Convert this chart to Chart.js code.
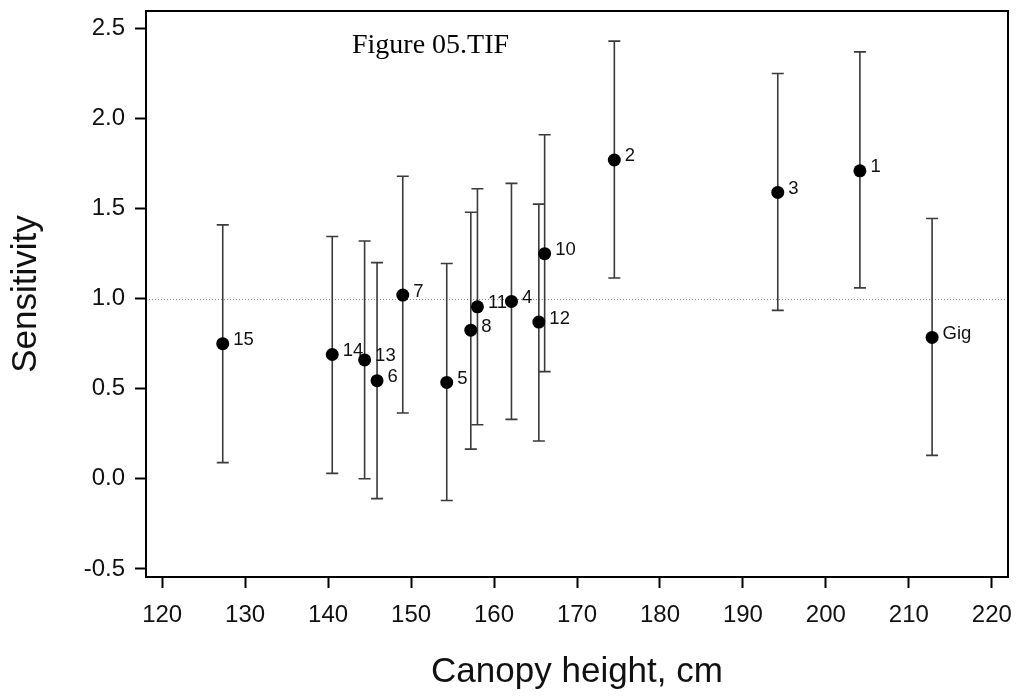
<!DOCTYPE html>
<html>
<head>
<meta charset="utf-8">
<title>Sensitivity vs canopy height</title>
<script src="https://cdn.jsdelivr.net/npm/chart.js@4.4.1/dist/chart.umd.min.js"></script>
<style>
    html, body { margin: 0; padding: 0; background: #fff; }
    #wrap { width: 1016px; height: 697px; }
</style>
</head>
<body>
<div id="wrap"><canvas id="sens-chart" width="1016" height="697"></canvas></div>
<script>
// Sites, canopy height (cm), sensitivity and the limits of each error bar
const siteLabels   = ['15', '14', '13', '6', '7', '5', '8', '11', '4', '12', '10', '2', '3', '1', 'Gig'];
const canopyHeight = [127.3, 140.5, 144.4, 145.9, 149.0, 154.3, 157.2, 158.0, 162.1, 165.4, 166.1, 174.5, 194.2, 204.1, 212.8];
const sensitivity  = [0.75, 0.69, 0.66, 0.545, 1.02, 0.535, 0.825, 0.955, 0.985, 0.87, 1.25, 1.77, 1.59, 1.71, 0.785];
const lowerLimit   = [0.09, 0.03, 0.0, -0.11, 0.365, -0.12, 0.165, 0.30, 0.33, 0.21, 0.595, 1.115, 0.935, 1.06, 0.13];
const upperLimit   = [1.41, 1.345, 1.32, 1.20, 1.68, 1.195, 1.48, 1.61, 1.64, 1.525, 1.91, 2.43, 2.25, 2.37, 1.445];

// Axis ticks and the dotted reference level
const xTicks = [120, 130, 140, 150, 160, 170, 180, 190, 200, 210, 220];
const yTicks = [-0.5, 0.0, 0.5, 1.0, 1.5, 2.0, 2.5];
const refLevel = 1.0;

const SANS = "'Liberation Sans', Arial, Helvetica, sans-serif";

// Error bars, reference line, point labels, frame and caption
const extrasPlugin = {
    id: 'extras',
    beforeDatasetsDraw(chart) {
        const { ctx, chartArea, scales: { x, y } } = chart;
        ctx.save();

        // dotted line at sensitivity = 1
        const yRef = Math.round(y.getPixelForValue(refLevel)) + 0.5;
        ctx.strokeStyle = '#8a8a8a';
        ctx.lineWidth = 1;
        ctx.setLineDash([1, 2]);
        ctx.beginPath();
        ctx.moveTo(chartArea.left, yRef);
        ctx.lineTo(chartArea.right, yRef);
        ctx.stroke();
        ctx.setLineDash([]);

        // vertical bars with caps
        ctx.strokeStyle = '#3a3a3a';
        ctx.lineWidth = 1.6;
        canopyHeight.forEach((h, i) => {
            const px = x.getPixelForValue(h);
            const lo = y.getPixelForValue(lowerLimit[i]);
            const hi = y.getPixelForValue(upperLimit[i]);
            ctx.beginPath();
            ctx.moveTo(px, lo); ctx.lineTo(px, hi);
            ctx.moveTo(px - 6, lo); ctx.lineTo(px + 6, lo);
            ctx.moveTo(px - 6, hi); ctx.lineTo(px + 6, hi);
            ctx.stroke();
        });
        ctx.restore();
    },
    afterDatasetsDraw(chart) {
        const { ctx, scales: { x, y } } = chart;
        ctx.save();
        ctx.fillStyle = '#111';
        ctx.font = '18.5px ' + SANS;
        ctx.textAlign = 'left';
        ctx.textBaseline = 'alphabetic';
        siteLabels.forEach((label, i) => {
            const px = x.getPixelForValue(canopyHeight[i]);
            const py = y.getPixelForValue(sensitivity[i]);
            ctx.fillText(label, px + 10.5, py + 1.5);
        });
        ctx.restore();
    },
    afterDraw(chart) {
        const { ctx, chartArea } = chart;
        ctx.save();
        // box round the plot
        ctx.strokeStyle = '#000';
        ctx.lineWidth = 2;
        ctx.strokeRect(chartArea.left, chartArea.top, chartArea.right - chartArea.left, chartArea.bottom - chartArea.top);

        // file caption inside the plot
        ctx.fillStyle = '#000';
        ctx.font = "28px 'Liberation Serif', 'Times New Roman', serif";
        ctx.textAlign = 'left';
        ctx.textBaseline = 'alphabetic';
        ctx.fillText('Figure 05.TIF', 352, 53);
        ctx.restore();
    }
};

// scales keep fixed sizes; layout padding alone sets the plot box
function fixX(scale) {
    scale.height = 120;
    scale.paddingLeft = 0;
    scale.paddingRight = 0;
}
function fixY(scale) {
    scale.width = 146;
    scale.paddingTop = 0;
    scale.paddingBottom = 0;
}

const ctx = document.getElementById('sens-chart').getContext('2d');
const chart = new Chart(ctx, {
    type: 'scatter',
    data: {
        datasets: [{
            label: 'Sensitivity',
            data: canopyHeight.map((h, i) => ({ x: h, y: sensitivity[i] })),
            backgroundColor: '#000',
            borderWidth: 0,
            pointRadius: 6.5,
            pointHoverRadius: 6.5
        }]
    },
    options: {
        responsive: false,
        animation: false,
        devicePixelRatio: 1,
        layout: { padding: { top: 11, right: 8, left: 0, bottom: 0 } },
        plugins: {
            legend: { display: false },
            tooltip: { enabled: false }
        },
        scales: {
            x: {
                type: 'linear',
                min: 118.05,
                max: 221.95,
                afterFit: fixX,
                afterBuildTicks: scale => { scale.ticks = xTicks.map(v => ({ value: v })); },
                border: { display: true, color: '#000', width: 2 },
                grid: { drawOnChartArea: false, drawTicks: true, tickLength: 11, tickColor: '#000', tickWidth: 2 },
                ticks: {
                    color: '#111',
                    padding: 12.5,
                    maxRotation: 0,
                    font: { family: SANS, size: 24 },
                    callback: v => String(v)
                },
                title: {
                    display: true,
                    text: 'Canopy height, cm',
                    color: '#111',
                    font: { family: SANS, size: 35 },
                    padding: { top: 0, bottom: 3.5 }
                }
            },
            y: {
                type: 'linear',
                min: -0.545,
                max: 2.597,
                afterFit: fixY,
                afterBuildTicks: scale => { scale.ticks = yTicks.map(v => ({ value: v })); },
                border: { display: true, color: '#000', width: 2 },
                grid: { drawOnChartArea: false, drawTicks: true, tickLength: 11, tickColor: '#000', tickWidth: 2 },
                ticks: {
                    color: '#111',
                    padding: 10,
                    font: { family: SANS, size: 24 },
                    callback: v => v.toFixed(1)
                },
                title: {
                    display: true,
                    text: 'Sensitivity',
                    color: '#111',
                    font: { family: SANS, size: 35 },
                    padding: { top: 5.5, bottom: 0 }
                }
            }
        }
    },
    plugins: [extrasPlugin]
});
</script>
</body>
</html>
